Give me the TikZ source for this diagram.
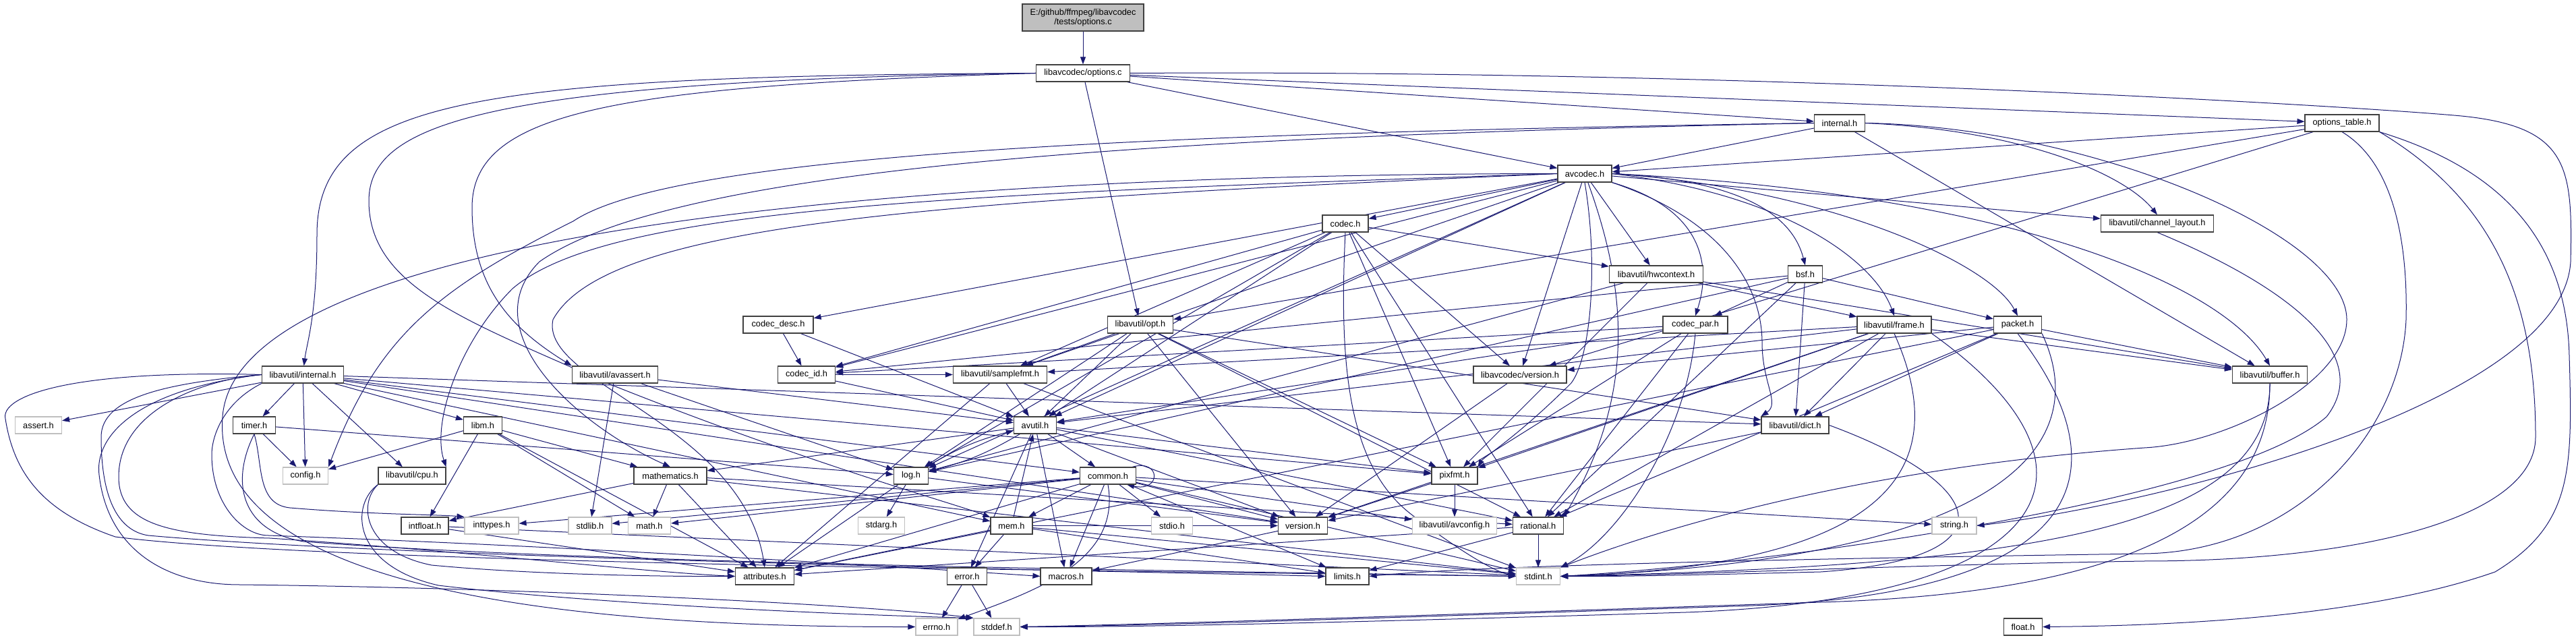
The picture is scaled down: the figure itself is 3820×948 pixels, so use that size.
\documentclass[tikz,border=0pt]{standalone}
\usepackage{fontspec}
\setmainfont{Liberation Sans}
\usetikzlibrary{arrows.meta}
\pgfdeclarelayer{edges}
\pgfsetlayers{edges,main}

\definecolor{edgeblue}{RGB}{25,25,112}
\definecolor{boxgray}{RGB}{191,191,191}

\begin{document}
\begin{tikzpicture}[
    x=1pt, y=1pt,
    every node/.style={font=\fontsize{12.8}{14}\selectfont},
    hdr/.style={draw=black!75, line width=1.2pt, fill=white, minimum height=25pt, inner sep=1pt},
    syshdr/.style={hdr, draw=boxgray},
    rootfile/.style={hdr, fill=boxgray, align=center, minimum height=40pt},
    dep/.style={draw=edgeblue, line width=1pt, -{Triangle[length=11pt, width=8pt]}},
]
\useasboundingbox (0,0) rectangle (3820,948);

% top of the graph
\node[rootfile, minimum width=180pt] (root) at (1606,922) {E:/github/ffmpeg/libavcodec\\/tests/options.c};
\node[hdr, minimum width=139pt] (optc) at (1606,839.5) {libavcodec/options.c};
\node[hdr, minimum width=75pt] (intl) at (2728,765.5) {internal.h};
\node[hdr, minimum width=110pt] (optab) at (3473,765.5) {options\_table.h};
\node[hdr, minimum width=80pt] (avcodec) at (2350,690.5) {avcodec.h};
\node[hdr, minimum width=68pt] (codec) at (1995,616.5) {codec.h};
\node[hdr, minimum width=167pt] (chlay) at (3199,616.5) {libavutil/channel\_layout.h};
\node[hdr, minimum width=139pt] (hwctx) at (2456,541.5) {libavutil/hwcontext.h};
\node[hdr, minimum width=51pt] (bsf) at (2677,541.5) {bsf.h};

% middle rows
\node[hdr, minimum width=104pt] (cdesc) at (1154,466.5) {codec\_desc.h};
\node[hdr, minimum width=97pt] (opt) at (1691,466.5) {libavutil/opt.h};
\node[hdr, minimum width=96pt] (cpar) at (2514,466.5) {codec\_par.h};
\node[hdr, minimum width=110pt] (frame) at (2809,466.5) {libavutil/frame.h};
\node[hdr, minimum width=71pt] (packet) at (2992,466.5) {packet.h};
\node[hdr, minimum width=121pt] (avint) at (449,392.5) {libavutil/internal.h};
\node[hdr, minimum width=127pt] (avassert) at (912,392.5) {libavutil/avassert.h};
\node[hdr, minimum width=85pt] (cid) at (1196,392.5) {codec\_id.h};
\node[hdr, minimum width=139pt] (sfmt) at (1483,392.5) {libavutil/samplefmt.h};
\node[hdr, minimum width=138pt] (lavcver) at (2254,392.5) {libavcodec/version.h};
\node[hdr, minimum width=111pt] (buffer) at (3366,392.5) {libavutil/buffer.h};
\node[syshdr, minimum width=69pt] (assert) at (57,317.5) {assert.h};
\node[hdr, minimum width=63pt] (timer) at (377,317.5) {timer.h};
\node[hdr, minimum width=57pt] (libm) at (716,317.5) {libm.h};
\node[hdr, minimum width=63pt] (avutil) at (1535,317.5) {avutil.h};
\node[hdr, minimum width=100pt] (dict) at (2662,317.5) {libavutil/dict.h};
\node[syshdr, minimum width=67pt] (config) at (453,242.5) {config.h};
\node[hdr, minimum width=100pt] (cpu) at (611,242.5) {libavutil/cpu.h};
\node[hdr, minimum width=51pt] (log) at (1351,242.5) {log.h};
\node[hdr, minimum width=108pt] (mathem) at (994,242.5) {mathematics.h};
\node[hdr, minimum width=83pt] (common) at (1643,242.5) {common.h};
\node[hdr, minimum width=68pt] (pixfmt) at (2157,242.5) {pixfmt.h};

% bottom rows
\node[hdr, minimum width=70pt] (intfloat) at (630,168.5) {intfloat.h};
\node[syshdr, minimum width=80pt] (inttypes) at (729,168.5) {inttypes.h};
\node[syshdr, minimum width=64pt] (stdlib) at (875,168.5) {stdlib.h};
\node[syshdr, minimum width=63pt] (mathh) at (963,168.5) {math.h};
\node[syshdr, minimum width=69pt] (stdarg) at (1307,168.5) {stdarg.h};
\node[hdr, minimum width=62pt] (mem) at (1500,168.5) {mem.h};
\node[syshdr, minimum width=61pt] (stdio) at (1738,168.5) {stdio.h};
\node[hdr, minimum width=73pt] (version) at (1932,168.5) {version.h};
\node[syshdr, minimum width=125pt] (avconfig) at (2157,168.5) {libavutil/avconfig.h};
\node[hdr, minimum width=75pt] (rational) at (2281,168.5) {rational.h};
\node[syshdr, minimum width=66pt] (string) at (2898,168.5) {string.h};
\node[hdr, minimum width=87pt] (attr) at (1134,93.5) {attributes.h};
\node[hdr, minimum width=59pt] (error) at (1434,93.5) {error.h};
\node[hdr, minimum width=76pt] (macros) at (1581,93.5) {macros.h};
\node[hdr, minimum width=64pt] (limits) at (1998,93.5) {limits.h};
\node[syshdr, minimum width=65pt] (stdint) at (2281,93.5) {stdint.h};
\node[syshdr, minimum width=62pt] (errno) at (1389,18.5) {errno.h};
\node[syshdr, minimum width=68pt] (stddef) at (1478,18.5) {stddef.h};
\node[hdr, minimum width=57pt] (float) at (3000,18.5) {float.h};

\begin{pgfonlayer}{edges}
% plain includes
\foreach \a/\b in {root/optc, optc/opt, optc/avcodec, optc/intl, optc/optab,
    intl/avcodec, intl/buffer, optab/avcodec, optab/opt, optab/lavcver,
    avcodec/codec, avcodec/hwctx, avcodec/cdesc, avcodec/cid, avcodec/sfmt,
    avcodec/avutil, avcodec/log, avcodec/chlay, avcodec/lavcver,
    codec/hwctx, codec/cid, codec/sfmt, codec/avutil, codec/log, codec/pixfmt,
    codec/rational, codec/lavcver,
    hwctx/buffer, hwctx/frame, hwctx/log, hwctx/pixfmt,
    bsf/dict, bsf/log, bsf/rational, bsf/cid, bsf/cpar, bsf/packet,
    cdesc/avutil, cdesc/cid,
    opt/rational, opt/avutil, opt/dict, opt/log, opt/pixfmt, opt/sfmt, opt/version,
    cpar/avutil, cpar/rational, cpar/pixfmt, cpar/cid,
    frame/avutil, frame/buffer, frame/dict, frame/rational, frame/sfmt,
    frame/pixfmt, frame/version,
    packet/attr, packet/buffer, packet/dict, packet/rational, packet/lavcver,
    dict/version, lavcver/version,
    avint/assert, avint/timer, avint/config, avint/cpu, avint/libm, avint/dict,
    avint/pixfmt, avint/version, avint/mem, avint/common,
    avassert/stdlib, avassert/avutil, avassert/log,
    cid/avutil, cid/sfmt, sfmt/avutil, sfmt/attr, sfmt/stdint,
    timer/config, timer/log,
    libm/config, libm/mathh, libm/attr, libm/intfloat, libm/mathem,
    avutil/common, avutil/error, avutil/rational, avutil/version, avutil/macros,
    avutil/mathem, avutil/pixfmt,
    log/stdarg, log/attr, log/version,
    mathem/stdint, mathem/mathh, mathem/attr, mathem/rational, mathem/intfloat,
    common/inttypes, common/limits, common/mathh, common/stdint, common/stdio,
    common/stdlib, common/string, common/attr, common/macros, common/version,
    common/avconfig, common/mem,
    pixfmt/avconfig, pixfmt/version, intfloat/stdint, intfloat/attr,
    mem/limits, mem/stdint, mem/attr, mem/error, mem/avutil, mem/version,
    version/macros, rational/stdint, rational/limits, rational/attr,
    error/errno, error/stddef}
    \draw[dep] (\a) -- (\b);

% avutil.h and log.h include each other
\draw[dep] (avutil) to[bend left=8] (log);
\draw[dep] (log) to[bend left=8] (avutil);
\draw[dep] (common.south) to[out=-80, in=20] (errno);
% self include of common.h
\draw[dep] ([xshift=-6pt]common.north east) .. controls (1722,268) and (1722,218) .. ([xshift=-14pt]common.south east);

% long curves round the left
\draw[dep] (optc.west) .. controls (700,835) and (470,800) .. (470,600) .. controls (470,480) and (455,440) .. (avint);
\draw[dep] (optc.west) .. controls (700,828) and (547,760) .. (547,650) .. controls (547,520) and (700,470) .. (900,380) .. controls (1200,260) and (1420,200) .. (mem);
\draw[dep] (optc.west) .. controls (900,820) and (700,780) .. (700,640) .. controls (700,520) and (760,460) .. (avassert.north west);
\draw[dep] (intl.west) .. controls (1700,750) and (1000,720) .. (850,620) .. controls (650,520) and (560,450) .. (config.north east);
\draw[dep] (intl.west) .. controls (1700,745) and (1000,700) .. (800,560) .. controls (700,460) and (850,320) .. (mathem.north);
\draw[dep] (avcodec.west) .. controls (1400,650) and (900,620) .. (820,474) .. controls (800,380) and (1100,320) .. (attr.north);
\draw[dep] (avcodec.west) .. controls (1400,660) and (900,640) .. (760,520) .. controls (680,440) and (640,320) .. (cpu.north east);
\draw[dep] (avcodec.west) .. controls (1300,690) and (350,600) .. (330,330) .. controls (310,60) and (900,18) .. (errno.west);
\draw[dep] (avint.west) .. controls (100,400) and (0,360) .. (8,327) .. controls (20,250) and (60,190) .. (171,152) .. controls (500,110) and (1800,100) .. (stdint.west);
\draw[dep] (avint.west) .. controls (250,380) and (150,360) .. (150,300) .. controls (150,200) and (180,160) .. (220,154) .. controls (600,120) and (1700,100) .. (limits.west);
\draw[dep] (avint.west) .. controls (300,385) and (176,340) .. (176,241) .. controls (176,170) and (250,154) .. (400,150) .. controls (700,130) and (950,100) .. (attr.west);
\draw[dep] (avint.south west) .. controls (330,350) and (314,300) .. (314,274) .. controls (314,200) and (360,154) .. (398,154) .. controls (800,140) and (1300,110) .. (macros.west);
\draw[dep] (avint.west) .. controls (200,370) and (140,300) .. (147,244) .. controls (160,130) and (250,81) .. (355,81) .. controls (800,76) and (1300,50) .. (stddef.north west);
\draw[dep] (timer.south) .. controls (390,260) and (380,200) .. (430,195) .. controls (550,185) and (650,185) .. (inttypes.north west);
\draw[dep] (timer.south) .. controls (340,230) and (360,160) .. (450,145) .. controls (900,110) and (1900,100) .. (stdint.west);
\draw[dep] (cpu.south west) .. controls (520,200) and (520,110) .. (650,80) .. controls (900,50) and (1300,35) .. (stddef.north west);
\draw[dep] (cpu.south west) .. controls (530,200) and (540,130) .. (640,110) .. controls (800,95) and (1000,93) .. (attr.west);

% curves on the right
\draw[dep] (intl.east) .. controls (3000,755) and (3150,690) .. (chlay.north);
\draw[dep] (avcodec.east) .. controls (2600,680) and (2660,620) .. (bsf.north);
\draw[dep] (avcodec.east) .. controls (2650,660) and (2780,560) .. (frame.north);
\draw[dep] (avcodec.east) .. controls (2700,670) and (2950,560) .. (packet.north);
\draw[dep] (avcodec.east) .. controls (3000,660) and (3300,520) .. (buffer.north);
\draw[dep] (avcodec.south east) .. controls (2520,640) and (2540,560) .. (cpar.north);
\draw[dep] (avcodec.south east) .. controls (2560,620) and (2613,520) .. (2613,440) .. controls (2613,380) and (2640,350) .. (dict.north west);
\draw[dep] (avcodec.south) .. controls (2370,560) and (2360,420) .. (2330,380) .. controls (2250,300) and (2200,270) .. (pixfmt.north east);
\draw[dep] (avcodec) to[out=-70, in=60] (rational.north east);
\draw[dep] (codec.south) .. controls (1985,400) and (2000,250) .. (2100,180) .. controls (2180,120) and (2220,100) .. (stdint.west);
\draw[dep] (cpar.south) .. controls (2500,300) and (2400,150) .. (stdint.north east);
\draw[dep] (frame.south east) .. controls (3150,250) and (3050,60) .. (2500,40) .. controls (2000,25) and (1700,18) .. (stddef.east);
\draw[dep] (frame.south) .. controls (2900,250) and (2800,110) .. (stdint.east);
\draw[dep] (packet.south) .. controls (3150,250) and (3100,70) .. (2600,50) .. controls (2000,30) and (1700,20) .. (stddef.east);
\draw[dep] (packet.south east) .. controls (3100,300) and (3000,120) .. (stdint.east);
\draw[dep] (buffer.south) .. controls (3366,200) and (3200,70) .. (2700,55) .. controls (2100,35) and (1700,22) .. (stddef.east);
\draw[dep] (buffer.south) .. controls (3366,160) and (3000,110) .. (stdint.east);
\draw[dep] (dict.east) .. controls (2950,230) and (2990,120) .. (2700,100) .. controls (2500,95) and (2400,93) .. (stdint.east);
\draw[dep] (chlay.south) .. controls (3400,520) and (3520,420) .. (3450,330) .. controls (3300,200) and (2600,110) .. (stdint.east);
\draw[dep] (intl.east) .. controls (3100,760) and (3480,600) .. (3480,474) .. controls (3480,380) and (3300,290) .. (3180,284) .. controls (2700,250) and (2400,140) .. (stdint.north east);
\draw[dep] (optc.east) .. controls (2600,845) and (3500,790) .. (3650,776) .. controls (3810,760) and (3815,700) .. (3812,560) .. controls (3800,350) and (3200,200) .. (string.east);
\draw[dep] (optab.south east) .. controls (3700,700) and (3806,600) .. (3810,420) .. controls (3815,250) and (3815,170) .. (3700,100) .. controls (3500,30) and (3200,20) .. (float.east);
\draw[dep] (optab.south east) .. controls (3700,650) and (3760,500) .. (3760,300) .. controls (3760,180) and (3500,116) .. (3180,116) .. controls (2800,110) and (2500,95) .. (stdint.east);
\draw[dep] (optab.south) .. controls (3560,700) and (3570,560) .. (3568,474) .. controls (3560,300) and (3400,130) .. (3180,127) .. controls (2700,120) and (2200,110) .. (limits.east);
\end{pgfonlayer}

\end{tikzpicture}
\end{document}
